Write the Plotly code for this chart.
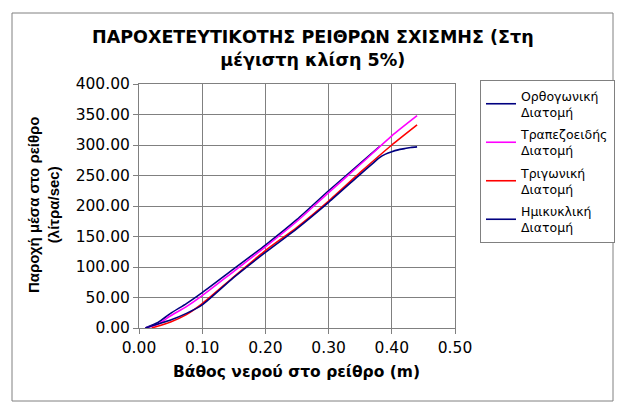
import plotly.graph_objects as go

# Data
depth_rect = [0.01, 0.03, 0.05, 0.075, 0.10, 0.15, 0.20, 0.25, 0.30, 0.35, 0.38]
flow_rect = [0, 9, 24, 40, 58, 97, 136, 178, 225, 270, 297]

depth_trap = [0.01, 0.03, 0.05, 0.075, 0.10, 0.15, 0.20, 0.25, 0.30, 0.35, 0.40, 0.44]
flow_trap = [0, 6, 20, 35, 53, 93, 133, 175, 222, 268, 315, 348]

depth_tri = [0.02, 0.05, 0.075, 0.10, 0.15, 0.20, 0.25, 0.30, 0.35, 0.40, 0.44]
flow_tri = [0, 10, 22, 40, 84, 127, 165, 208, 255, 300, 333]

depth_semi = [0.01, 0.05, 0.075, 0.10, 0.15, 0.20, 0.25, 0.30, 0.35, 0.37, 0.38, 0.39, 0.40, 0.41, 0.42, 0.43, 0.44]
flow_semi = [0, 13, 24, 38, 83, 124, 163, 206, 252, 270, 279, 285, 289, 292, 294, 296, 297]

names = ["Ορθογωνική<br>Διατομή", "Τραπεζοειδής<br>Διατομή", "Τριγωνική<br>Διατομή", "Ημικυκλική<br>Διατομή"]
colors = ["#000080", "#FF00FF", "#FF0000", "#000080"]

x_ticks = [0.0, 0.1, 0.2, 0.3, 0.4, 0.5]
x_tick_labels = ["0.00", "0.10", "0.20", "0.30", "0.40", "0.50"]
y_ticks = [0, 50, 100, 150, 200, 250, 300, 350, 400]
y_tick_labels = ["0.00", "50.00", "100.00", "150.00", "200.00", "250.00", "300.00", "350.00", "400.00"]

title_text = "ΠΑΡΟΧΕΤΕΥΤΙΚΟΤΗΣ ΡΕΙΘΡΩΝ ΣΧΙΣΜΗΣ (Στη<br>μέγιστη κλίση 5%)"
x_title = "Βάθος νερού στο ρείθρο (m)"
y_title = "Παροχή μέσα στο ρείθρο<br>(λίτρα/sec)"

fig = go.Figure()
series = [(depth_rect, flow_rect), (depth_trap, flow_trap), (depth_tri, flow_tri), (depth_semi, flow_semi)]
for i, ((xs, ys), nm, col) in enumerate(zip(series, names, colors)):
    fig.add_trace(go.Scatter(x=xs, y=ys, mode="lines", name=nm,
                             line=dict(color=col, width=1.6, shape="spline", smoothing=0.6),
                             legendgroup=str(i)))

# page has an 8px body margin; figure is sized so the page fits the window
OFF = 8
W, H = 625 - 2 * OFF, 412 - 2 * OFF
L, R, T, B = 139 - OFF, 455 - OFF, 84 - OFF, 328 - OFF
pw, ph = R - L, B - T

def px(xp):
    return (xp - OFF - L) / pw

def py(yp):
    return (B - (yp - OFF)) / ph

axis_common = dict(showgrid=True, gridcolor="#808080", gridwidth=1,
                   showline=True, linecolor="#808080", linewidth=1, mirror=True,
                   ticks="outside", ticklen=5, tickcolor="#808080",
                   tickfont=dict(family="DejaVu Sans", size=15.5, color="black"),
                   zeroline=False)

fig.update_layout(
    width=W, height=H,
    margin=dict(l=L, r=W - R, t=T, b=H - B, autoexpand=False),
    paper_bgcolor="white", plot_bgcolor="white",
    showlegend=True,
    legend=dict(x=px(480), y=py(80), xanchor="left", yanchor="top",
                bordercolor="#808080", borderwidth=1, bgcolor="white",
                font=dict(family="DejaVu Sans", size=12.5, color="black"),
                traceorder="grouped", tracegroupgap=3, itemwidth=30),
    xaxis=dict(range=[0, 0.5], tickvals=x_ticks, ticktext=x_tick_labels, **axis_common),
    yaxis=dict(range=[0, 400], tickvals=y_ticks, ticktext=y_tick_labels, **axis_common),
)

fig.add_shape(type="rect", xref="paper", yref="paper",
              x0=px(12), x1=px(613), y0=py(401), y1=py(13),
              line=dict(color="#808080", width=1), layer="above")

fig.add_annotation(text="<b>" + title_text + "</b>", xref="paper", yref="paper",
                   x=px(313), y=py(48), xanchor="center", yanchor="middle",
                   showarrow=False, font=dict(family="DejaVu Sans", size=17.5, color="black"))
fig.add_annotation(text="<b>" + x_title + "</b>", xref="paper", yref="paper",
                   x=px(296), y=py(372), xanchor="center", yanchor="middle",
                   showarrow=False, font=dict(family="DejaVu Sans", size=15.5, color="black"))
fig.add_annotation(text="<b>" + y_title + "</b>", xref="paper", yref="paper",
                   x=px(43), y=py(205), xanchor="center", yanchor="middle", textangle=-90,
                   showarrow=False, font=dict(family="Liberation Sans", size=15, color="black"))

fig.write_html("out.html")
